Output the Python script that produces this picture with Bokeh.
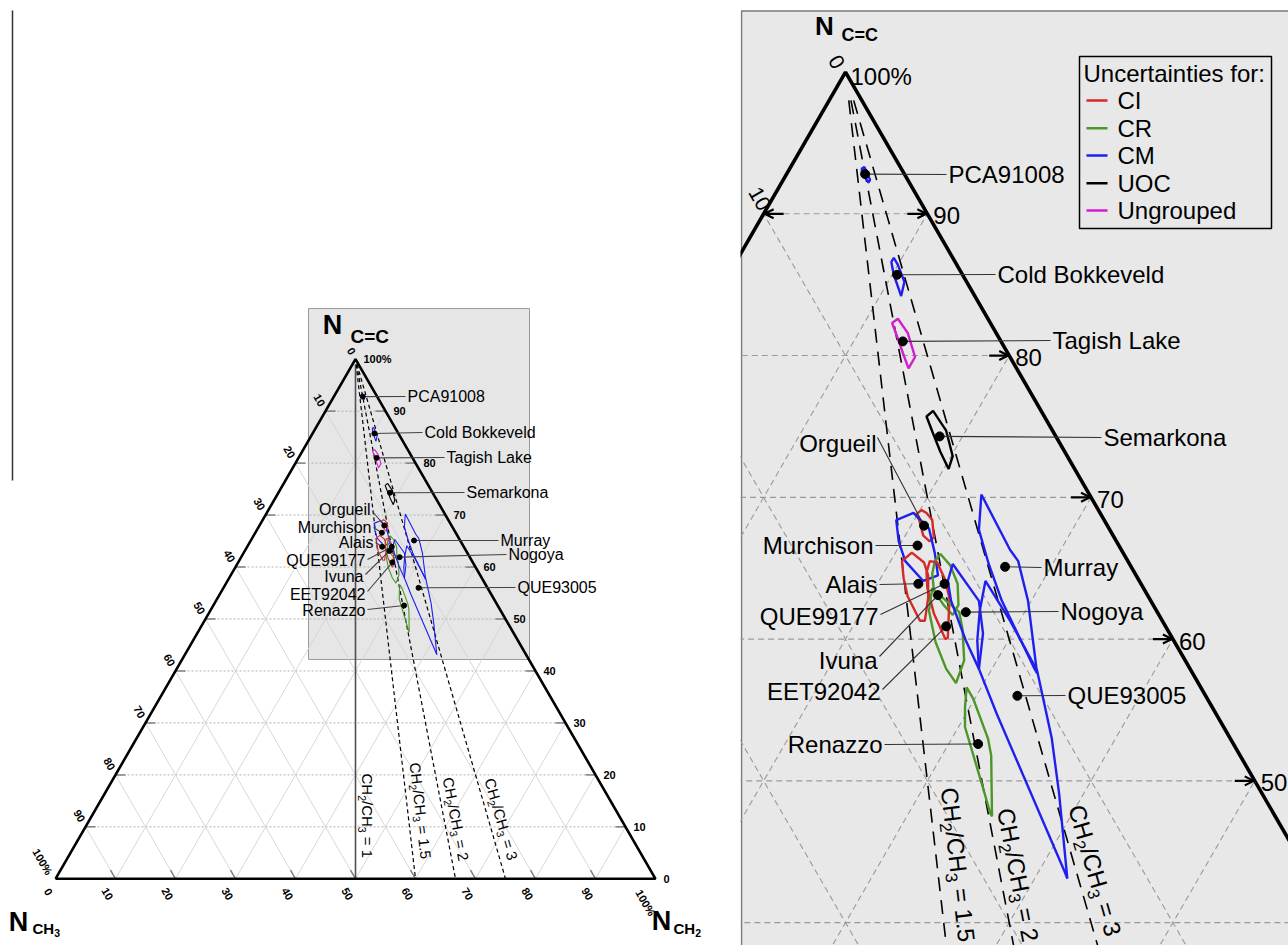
import math

from bokeh.core.properties import value
from bokeh.embed import file_html
from bokeh.layouts import row
from bokeh.models import Arrow, OpenHead
from bokeh.plotting import figure
from bokeh.resources import INLINE

SQ = math.sqrt(3) / 2
FONT = value("Liberation Sans")

# ---------------------------------------------------------------- data
names = ["PCA91008", "Cold Bokkeveld", "Tagish Lake", "Semarkona", "Orgueil",
         "Murchison", "Alais", "QUE99177", "Ivuna", "EET92042", "Nogoya",
         "Murray", "QUE93005", "Renazzo"]
groups = ["CM", "CM", "Ungrouped", "UOC", "CI", "CM", "CI", "CR", "CI", "CR",
          "CM", "CM", "CM", "CR"]
n_ch3 = [2.4, 4.0, 6.0, 7.1, 11.2, 12.3, 13.6, 12.0, 12.8, 13.4, 11.7, 7.7, 11.5, 15.6]
n_ch2 = [4.8, 10.3, 13.0, 18.6, 20.8, 21.1, 22.5, 24.1, 24.1, 25.7, 26.4, 27.2, 32.5, 31.8]
n_cc = [92.8, 85.7, 81.0, 74.3, 68.0, 66.6, 63.9, 63.9, 63.1, 60.9, 61.9, 65.1, 56.0, 52.6]

# uncertainty envelopes, vertices as (N_CH2, N_C=C) in %
unc_ch2 = [
    [4.4, 4.5, 5.3, 5.3, 5.1, 4.6],
    [9.5, 9.5, 10.0, 11.0, 11.3, 10.9, 10.1],
    [11.7, 11.9, 13.0, 14.3, 14.3, 13.4, 12.6],
    [17.1, 17.3, 18.8, 20.1, 20.3, 19.2, 18.1],
    [19.9, 20.1, 20.5, 21.1, 21.8, 21.7, 21.1, 20.3],
    [18.9, 19.7, 21.2, 22.4, 23.4, 22.7, 20.9, 19.8],
    [20.7, 21.0, 22.1, 22.8, 23.6, 24.2, 23.9, 22.3, 21.4],
    [22.8, 23.8, 24.9, 25.7, 25.7, 24.8, 23.7, 23.0, 22.7],
    [22.4, 22.9, 23.9, 24.9, 26.2, 26.1, 24.5, 23.2, 22.6],
    [23.5, 24.8, 26.0, 26.8, 28.0, 28.3, 27.2, 25.6, 24.1],
    [23.9, 26.8, 28.2, 29.2, 27.4, 25.1, 24.2],
    [23.2, 26.9, 27.8, 29.8, 32.9, 32.6, 28.2, 26.1, 24.3],
    [26.5, 29.4, 32.8, 36.1, 38.5, 42.0, 41.5, 31.9, 29.2, 28.1, 27.2],
    [29.1, 29.9, 32.2, 33.0, 35.2, 35.0, 33.5, 30.4, 29.7],
]
unc_cc = [
    [93.2, 93.3, 92.4, 92.2, 92.4, 92.8],
    [86.6, 86.9, 86.4, 85.2, 84.2, 84.7, 85.7],
    [82.3, 82.6, 81.6, 79.9, 79.1, 80.2, 81.2],
    [75.7, 76.1, 74.7, 72.9, 72.0, 73.2, 74.5],
    [68.8, 69.1, 68.9, 68.4, 67.2, 66.9, 67.3, 68.4],
    [68.4, 68.9, 67.8, 66.1, 64.5, 64.1, 65.5, 66.9],
    [65.5, 66.1, 65.4, 64.5, 62.9, 61.3, 61.3, 63.0, 64.3],
    [66.0, 65.2, 63.9, 62.4, 61.7, 62.4, 63.4, 64.6, 65.5],
    [65.5, 65.4, 64.3, 62.9, 60.1, 60.0, 61.8, 63.6, 64.7],
    [63.6, 62.7, 61.9, 60.7, 58.5, 56.9, 57.9, 59.8, 62.0],
    [65.3, 62.7, 60.4, 57.9, 59.9, 62.7, 64.1],
    [70.2, 66.3, 65.5, 62.7, 57.6, 57.9, 62.7, 65.3, 67.7],
    [64.1, 61.3, 57.8, 53.0, 49.1, 43.1, 43.7, 54.7, 57.9, 59.9, 62.0],
    [56.6, 55.8, 53.0, 51.8, 47.5, 47.7, 49.7, 53.8, 55.2],
]

group_names = ["CI", "CR", "CM", "UOC", "Ungrouped"]
group_colors = ["#d42a2a", "#4c962a", "#1f1ff0", "#000000", "#d21ecf"]
color_of = dict(zip(group_names, group_colors))

ratios = [1, 1.5, 2, 3]
ratio_values = ["1", "1.5", "2", "3"]
ticks = list(range(0, 101, 10))

right_side = {"PCA91008", "Cold Bokkeveld", "Tagish Lake", "Semarkona",
              "Nogoya", "Murray", "QUE93005"}

# ---------------------------------------------------------------- layout
# label anchors and leader ends (page pixels) for the full and zoomed views
full_label_px = [(407, 396), (424, 432), (446, 457), (466, 492), (370, 509),
                 (371, 527), (373, 542), (365, 560), (363, 576), (365, 594),
                 (508, 554), (500, 540), (517, 587), (365, 610)]
full_leader_px = [(405, 396), (422, 432), (444, 457), (464, 492), (372, 511),
                  (373, 527), (375, 542), (367, 559), (365, 574), (367, 591),
                  (506, 554), (498, 540), (515, 587), (367, 609)]
zoom_label_px = [(948, 174), (997, 274), (1052, 340), (1103, 437), (876, 443),
                 (873, 545), (877, 584), (878, 616), (877, 660), (880, 691),
                 (1060, 611), (1043, 567), (1067, 695), (882, 744)]
zoom_leader_px = [(946, 174), (995, 274), (1050, 340), (1101, 437), (877, 437),
                  (875, 545), (879, 584), (880, 614), (879, 656), (882, 689),
                  (1058, 611), (1041, 567), (1065, 695), (884, 744)]

# advance widths (em) of the glyphs used in subscripted labels
GLYPH_W = {"C": 0.722, "H": 0.722, "/": 0.278, " ": 0.278, "=": 0.584, ".": 0.278}
GLYPH_W.update({d: 0.556 for d in "0123456789"})


def cart(b, c):
    """Ternary (N_CH2, N_C=C) -> cartesian, N_CH3 at the origin."""
    return b + c / 2.0, c * SQ


class Frame:
    """Maps page pixels of one panel onto its ternary cartesian space."""

    def __init__(self, left, width, px_ref, py_ref, x_ref, y_ref, scale):
        self.left, self.width = left, width
        self.px_ref, self.py_ref = px_ref, py_ref
        self.x_ref, self.y_ref, self.s = x_ref, y_ref, scale

    def x(self, px):
        return self.x_ref + (px - self.px_ref) / self.s

    def y(self, py):
        return self.y_ref - (py - self.py_ref) / self.s

    def d(self, dist):
        return dist / self.s

    def figure(self):
        p = figure(width=self.width, height=945,
                   x_range=(self.x(self.left), self.x(self.left + self.width)),
                   y_range=(self.y(945), self.y(0)),
                   output_backend="svg", toolbar_location=None, min_border=0,
                   x_axis_location=None, y_axis_location=None)
        p.grid.visible = False
        p.outline_line_color = None
        p.background_fill_color = "white"
        p.border_fill_color = "white"
        return p


def grid_segments(fam):
    xs, ys = [], []
    for k in range(10, 100, 10):
        if fam == "c":
            a0, a1 = cart(0, k), cart(100 - k, k)
        elif fam == "b":
            a0, a1 = cart(k, 0), cart(k, 100 - k)
        else:
            a0, a1 = cart(100 - k, 0), cart(0, 100 - k)
        xs.append([a0[0], a1[0]])
        ys.append([a0[1], a1[1]])
    return xs, ys


def ratio_point(r, c):
    return cart(100.0 * r / (1 + r) * (1 - c / 100.0), c)


def add_text(p, x, y, txt, size, align="left", baseline="middle", angle=0.0,
             bold=False, color="black"):
    p.text(x=[x], y=[y], text=[txt], text_font=FONT, text_font_size=size,
           text_align=align, text_baseline=baseline, angle=angle,
           text_color=color, text_font_style="bold" if bold else "normal")


def add_sub_text(p, F, x, y, parts, size, angle=0.0, bold=False):
    """Writes text with subscripts piece by piece along its middle line."""
    ux, uy = math.cos(angle), math.sin(angle)
    dx, dy = math.sin(angle), -math.cos(angle)
    for s, sub in parts:
        fs = size * 0.7 if sub else size
        lead = len(s) - len(s.lstrip(" "))
        if lead:
            adv = lead * GLYPH_W[" "] * fs
            x += F.d(adv) * ux
            y += F.d(adv) * uy
            s = s.lstrip(" ")
        shift = size * 0.32 if sub else 0.0
        add_text(p, x + F.d(shift) * dx, y + F.d(shift) * dy, s, f"{fs:.1f}px",
                 baseline="middle", angle=angle, bold=bold)
        adv = sum(GLYPH_W.get(ch, 0.556) for ch in s) * fs
        x += F.d(adv) * ux
        y += F.d(adv) * uy


def ratio_parts(v):
    return [("CH", False), ("2", True), ("/CH", False), ("3", True), (" = " + v, False)]


def draw_ratio_label(p, F, r, v, py, off, size):
    c = F.y(py) / SQ
    xr, yr = ratio_point(r, c)
    bx = 100.0 * r / (1 + r)
    ang = math.atan2(-50 * math.sqrt(3), bx - 50)
    add_sub_text(p, F, xr + F.d(off), yr, ratio_parts(v), size, angle=ang)


def draw_samples(p, F, lw_poly, dot_size, font_size, label_px, leader_px, lead_color):
    pxs, pys, cols = [], [], []
    for i in range(len(names)):
        pts = [cart(b, c) for b, c in zip(unc_ch2[i], unc_cc[i])]
        pxs.append([q[0] for q in pts])
        pys.append([q[1] for q in pts])
        cols.append(color_of[groups[i]])
    p.patches(pxs, pys, fill_alpha=0, line_color=cols, line_width=lw_poly)

    dx, dy = zip(*[cart(b, c) for b, c in zip(n_ch2, n_cc)])
    lx = [[dx[i], F.x(leader_px[i][0])] for i in range(len(names))]
    ly = [[dy[i], F.y(leader_px[i][1])] for i in range(len(names))]
    p.multi_line(lx, ly, line_color=lead_color, line_width=1.1)
    p.scatter(list(dx), list(dy), size=dot_size, color="black")

    for i, nm in enumerate(names):
        align = "left" if nm in right_side else "right"
        add_text(p, F.x(label_px[i][0]), F.y(label_px[i][1]), nm, font_size, align=align)


# ================================================================ full diagram
FL = Frame(0, 740, 55, 878.3, 0.0, 0.0, 6.0)
pl = FL.figure()

pl.line([FL.x(12), FL.x(12)], [FL.y(10), FL.y(480)], line_color="#333333", line_width=1.5)
pl.quad(left=FL.x(308), right=FL.x(529), top=FL.y(308), bottom=FL.y(659),
        fill_color="#e6e6e6", line_color="#9a9a9a", line_width=1)

gx, gy = grid_segments("c")
pl.multi_line(gx, gy, line_color="#b0b0b0", line_width=1, line_dash="2 2")
for fam in ("a", "b"):
    gx, gy = grid_segments(fam)
    pl.multi_line(gx, gy, line_color="#d2d2d2", line_width=0.9)

# short tick marks at the grid ends
tx, ty = [], []
for k in range(10, 100, 10):
    x0, y0 = cart(0, k)
    tx.append([x0, x0 + FL.d(10)]); ty.append([y0, y0])
    x1, y1 = cart(100 - k, k)
    tx.append([x1 - FL.d(10), x1]); ty.append([y1, y1])
    tx.append([k, k - 0.5 * FL.d(10)]); ty.append([0, SQ * FL.d(10)])
pl.multi_line(tx, ty, line_color="#808080", line_width=1.5)

# CH2/CH3 reference lines
for r in ratios:
    (xa, ya), (xb, yb) = ratio_point(r, 99), ratio_point(r, 0)
    if r == 1:
        pl.line([xa, xb], [ya, yb], line_color="#505050", line_width=1.6)
    else:
        pl.line([xa, xb], [ya, yb], line_color="black", line_width=1.2, line_dash="4 3")

full_ratio_lab = [(773, 11.5), (762, 13), (777, 12), (778, 13)]
for r, v, (py, off) in zip(ratios, ratio_values, full_ratio_lab):
    draw_ratio_label(pl, FL, r, v, py, off, 15)

# triangle frame
pl.line([0, 100, 50, 0], [0, 0, 50 * math.sqrt(3), 0], line_color="black", line_width=2.6)

# axis numbers
rot = -math.pi / 3
for k in ticks:
    lab = "100%" if k == 100 else str(k)
    # N_CH3 (left side)
    x0, y0 = cart(0, 100 - k)
    ox, oy = (-4, -8) if k == 0 else ((-13, -17) if k == 100 else (-6, -11))
    add_text(pl, x0 + FL.d(ox), y0 - FL.d(oy), lab, "11px", align="center", angle=rot, bold=True)
    # N_CH2 (bottom)
    ox, oy = (-7, 13) if k == 0 else ((-10, 24) if k == 100 else (-8, 15))
    add_text(pl, k + FL.d(ox), -FL.d(oy), lab, "11px", align="center", angle=rot, bold=True)
    # N_C=C (right side)
    x1, y1 = cart(100 - k, k)
    add_text(pl, x1 + FL.d(8), y1, lab, "11px", bold=True)

draw_samples(pl, FL, 1.1, 5, "16px", full_label_px, full_leader_px, "#444444")

# corner titles
add_text(pl, FL.x(332), FL.y(324), "N", "27px", align="center", bold=True)
add_text(pl, FL.x(350), FL.y(336), "C=C", "19px", bold=True)
add_text(pl, FL.x(18), FL.y(921), "N", "27px", align="center", bold=True)
add_sub_text(pl, FL, FL.x(32), FL.y(928), [("CH", False), ("3", True)], 15, bold=True)
add_text(pl, FL.x(661), FL.y(920), "N", "27px", align="center", bold=True)
add_sub_text(pl, FL, FL.x(673), FL.y(928), [("CH", False), ("2", True)], 15, bold=True)

# ================================================================ zoomed view
FR = Frame(740, 548, 845, 213.3, 50.0, 90 * SQ, 16.37)
pr = FR.figure()

pr.quad(left=FR.x(741), right=FR.x(1320), top=FR.y(10.5), bottom=FR.y(980),
        fill_color="#e8e8e8", line_color="#7a7a7a", line_width=1.5)

for fam in ("c", "a", "b"):
    gx, gy = grid_segments(fam)
    pr.multi_line(gx, gy, line_color="#9a9a9a", line_width=1.1, line_dash="6 4")

for r in ratios[1:]:
    (xa, ya), (xb, yb) = ratio_point(r, 98), ratio_point(r, 0)
    pr.line([xa, xb], [ya, yb], line_color="black", line_width=1.6, line_dash="14 9")

zoom_ratio_lab = [(787, 21), (808, 18), (805, 19)]
for r, v, (py, off) in zip(ratios[1:], ratio_values[1:], zoom_ratio_lab):
    draw_ratio_label(pr, FR, r, v, py, off, 24)

pr.line([0, 100, 50, 0], [0, 0, 50 * math.sqrt(3), 0], line_color="black", line_width=3.6)

# tick arrows on the grid ends
for k in (90, 80, 70, 60, 50):
    ex, ey = cart(100 - k, k)
    pr.add_layout(Arrow(end=OpenHead(size=9, line_width=2.2, line_color="black"),
                        x_start=ex - FR.d(20), y_start=ey, x_end=ex - FR.d(1), y_end=ey,
                        line_color="black", line_width=2.2))
    add_text(pr, ex + FR.d(6), ey - FR.d(2), str(k), "24px")
ex, ey = cart(0, 90)
pr.add_layout(Arrow(end=OpenHead(size=9, line_width=2.2, line_color="black"),
                    x_start=ex + FR.d(20), y_start=ey, x_end=ex + FR.d(1), y_end=ey,
                    line_color="black", line_width=2.2))
add_text(pr, ex - FR.d(4), ey + FR.d(15), "10", "21px", align="center", angle=rot)

vx, vy = cart(0, 100)
add_text(pr, vx + FR.d(5), vy - FR.d(4), "100%", "24px")
add_text(pr, vx - FR.d(9), vy + FR.d(10), "0", "21px", align="center", angle=rot)

draw_samples(pr, FR, 2.4, 9, "24px", zoom_label_px, zoom_leader_px, "#333333")

# legend
pr.quad(left=FR.x(1079), right=FR.x(1271), top=FR.y(56), bottom=FR.y(228),
        fill_alpha=0, line_color="black", line_width=1.5)
add_text(pr, FR.x(1083), FR.y(73), "Uncertainties for:", "24px")
for gname, gcol, py in zip(group_names, group_colors, [100, 127.7, 155, 182.7, 210]):
    pr.line([FR.x(1086), FR.x(1107)], [FR.y(py), FR.y(py)], line_color=gcol, line_width=2.6)
    add_text(pr, FR.x(1117), FR.y(py), gname, "24px")

add_text(pr, FR.x(824), FR.y(25), "N", "26px", align="center", bold=True)
add_text(pr, FR.x(841), FR.y(34), "C=C", "18px", bold=True)

layout = row(pl, pr, spacing=0)
open("out.html", "w").write(file_html(layout, INLINE))
